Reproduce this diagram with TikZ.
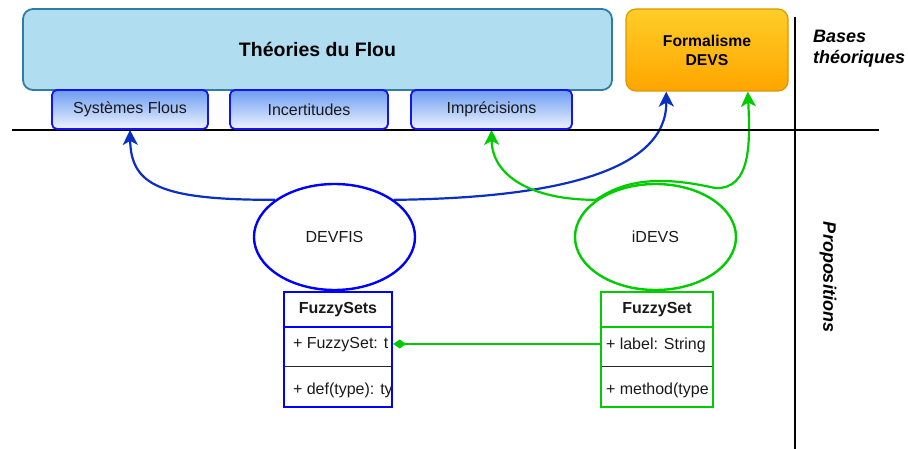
\documentclass[tikz,border=0pt]{standalone}
\usepackage{fontspec}
\setmainfont{Liberation Sans}
\usetikzlibrary{arrows.meta,shapes.geometric,calc}
\pgfdeclarelayer{bg}
\pgfsetlayers{bg,main}
\definecolor{thfill}{HTML}{B1DDF0}
\definecolor{thdraw}{HTML}{2E7EA3}
\definecolor{subtop}{HTML}{6C9CF2}
\definecolor{subbot}{HTML}{EEF4FF}
\definecolor{subdraw}{HTML}{1414F0}
\definecolor{devstop}{HTML}{FFCD28}
\definecolor{devsbot}{HTML}{FFA500}
\definecolor{devsdraw}{HTML}{D79B00}
\definecolor{edgeblue}{HTML}{0B2FC0}
\definecolor{ellblue}{HTML}{0000FF}
\definecolor{uGreen}{HTML}{00CC00}
\definecolor{txt}{HTML}{1A1A1A}
\tikzset{
  base/.style={inner sep=0pt, text=txt, font=\fontsize{16}{19}\selectfont},
  subbox/.style={base, rounded corners=5pt, draw=subdraw, line width=1.8pt,
     top color=subtop, bottom color=subbot, minimum height=39pt},
  ell/.style={base, ellipse, line width=2.4pt, fill=white, minimum width=161pt, minimum height=106pt},
  comp/.style={inner sep=0pt, minimum height=40pt},
  blueedge/.style={draw=edgeblue, line width=2.2pt, -{Stealth[length=15pt,width=15pt,inset=4pt]}},
  greenedge/.style={draw=uGreen, line width=2.2pt, -{Stealth[length=15pt,width=15pt,inset=4pt]}},
  sideText/.style={inner sep=0pt, text=black, font=\fontsize{18}{21}\selectfont\bfseries\itshape},
  umltxt/.style={base, anchor=west},
}
\begin{document}
\begin{tikzpicture}[x=1pt,y=-1pt]
\useasboundingbox (0,0) rectangle (908,449);

% axes
\coordinate (hl) at (12,130);
\coordinate (hr) at (879,130);
\coordinate (vt) at (795,17);
\coordinate (vb) at (795,449);
\draw[line width=2pt, black] (hl) -- (hr);
\draw[line width=2pt, black] (vt) -- (vb);

% top boxes
\node[base, rounded corners=10pt, draw=thdraw, line width=1.8pt, fill=thfill,
      minimum width=589pt, minimum height=81pt,
      font=\fontsize{19.5}{23}\selectfont\bfseries, text=black] (theo) at (317.5,49.5) {Théories du Flou};
\node[subbox, minimum width=156pt] (sf) at (130,109.5) {Systèmes Flous};
\node[subbox, minimum width=158pt] (inc) at (309,109.5) {Incertitudes};
\node[subbox, minimum width=161pt] (imp) at (491.5,109.5) {Imprécisions};
\node[base, rounded corners=10pt, draw=devsdraw, line width=1.2pt,
      top color=devstop, bottom color=devsbot, minimum width=162pt, minimum height=82pt,
      align=center, font=\fontsize{15.7}{19}\selectfont\bfseries, text=black] (devs) at (707,50) {Formalisme\\DEVS};

\node[sideText, anchor=west, align=left, font=\fontsize{18}{21}\selectfont\bfseries\itshape] (bases) at (813,48.5) {Bases\\théoriques};
\node[sideText, rotate=-90] (props) at (828,277) {Propositions};

% ellipses
\node[ell, draw=ellblue] (devfis) at (334.5,237) {DEVFIS};
\node[ell, draw=uGreen] (idevs) at (655.5,237) {iDEVS};

% connectors (behind the ellipses)
\coordinate (devsL) at ($(devs.south west)!0.25!(devs.south east)$);
\coordinate (devsR) at ($(devs.south west)!0.75!(devs.south east)$);
\coordinate (gmid) at (715,188);
\begin{pgfonlayer}{bg}
\draw[blueedge] (devfis.148) .. controls (160,200) and (131,185) .. (sf.south);
\draw[blueedge] (devfis.32) .. controls (560,198) and (667,170) .. (devsL);
\draw[greenedge] (idevs.148) .. controls (530,200) and (492,175) .. (imp.south);
\draw[greenedge] (idevs.148) .. controls (630,176) and (670,178) .. (gmid)
   .. controls (752,190) and (750,140) .. (devsR);
\end{pgfonlayer}

% UML class FuzzySets
\node[base, minimum width=108pt, minimum height=35pt, font=\fontsize{16}{19}\selectfont\bfseries] (fshead) at (338,309.5) {FuzzySets};
\node[comp, minimum width=108pt] (fsattr) at (338,347) {};
\node[comp, minimum width=108pt] (fsmeth) at (338,387) {};
\begin{scope}
\clip (fsattr.north west) rectangle (fsmeth.south east);
\node[umltxt] (fsattrt) at ($(fsattr.west)+(9,-2)$) {+ FuzzySet: t};
\node[umltxt] (fsmetht) at ($(fsmeth.west)+(9,3)$) {+ def(type): ty};
\end{scope}
\draw[line width=1pt, black!85] (fsmeth.north west) -- (fsmeth.north east);
\draw[line width=2pt, ellblue] (fsattr.north west) -- (fsattr.north east);
\draw[line width=2pt, ellblue] (fshead.north west) rectangle (fsmeth.south east);

% UML class FuzzySet
\node[base, minimum width=112pt, minimum height=35pt, font=\fontsize{16}{19}\selectfont\bfseries] (fhead) at (657,309.5) {FuzzySet};
\node[comp, minimum width=112pt] (fattr) at (657,347) {};
\node[comp, minimum width=112pt] (fmeth) at (657,387) {};
\begin{scope}
\clip (fattr.north west) rectangle (fmeth.south east);
\node[umltxt] (fattrt) at ($(fattr.west)+(5,-2)$) {+ label: String};
\node[umltxt] (fmetht) at ($(fmeth.west)+(5,3)$) {+ method(type};
\end{scope}
\draw[line width=1pt, black!85] (fmeth.north west) -- (fmeth.north east);
\draw[line width=2pt, uGreen] (fattr.north west) -- (fattr.north east);
\draw[line width=2pt, uGreen] (fhead.north west) rectangle (fmeth.south east);

% association
\coordinate (fsR) at ($(fsattr.east)+(1,-3)$);
\coordinate (fL) at ($(fattr.west)+(0,-3)$);
\draw[draw=uGreen, line width=2.2pt, -{Diamond[length=13pt,width=9pt]}] (fL) -- (fsR);
\end{tikzpicture}
\end{document}
